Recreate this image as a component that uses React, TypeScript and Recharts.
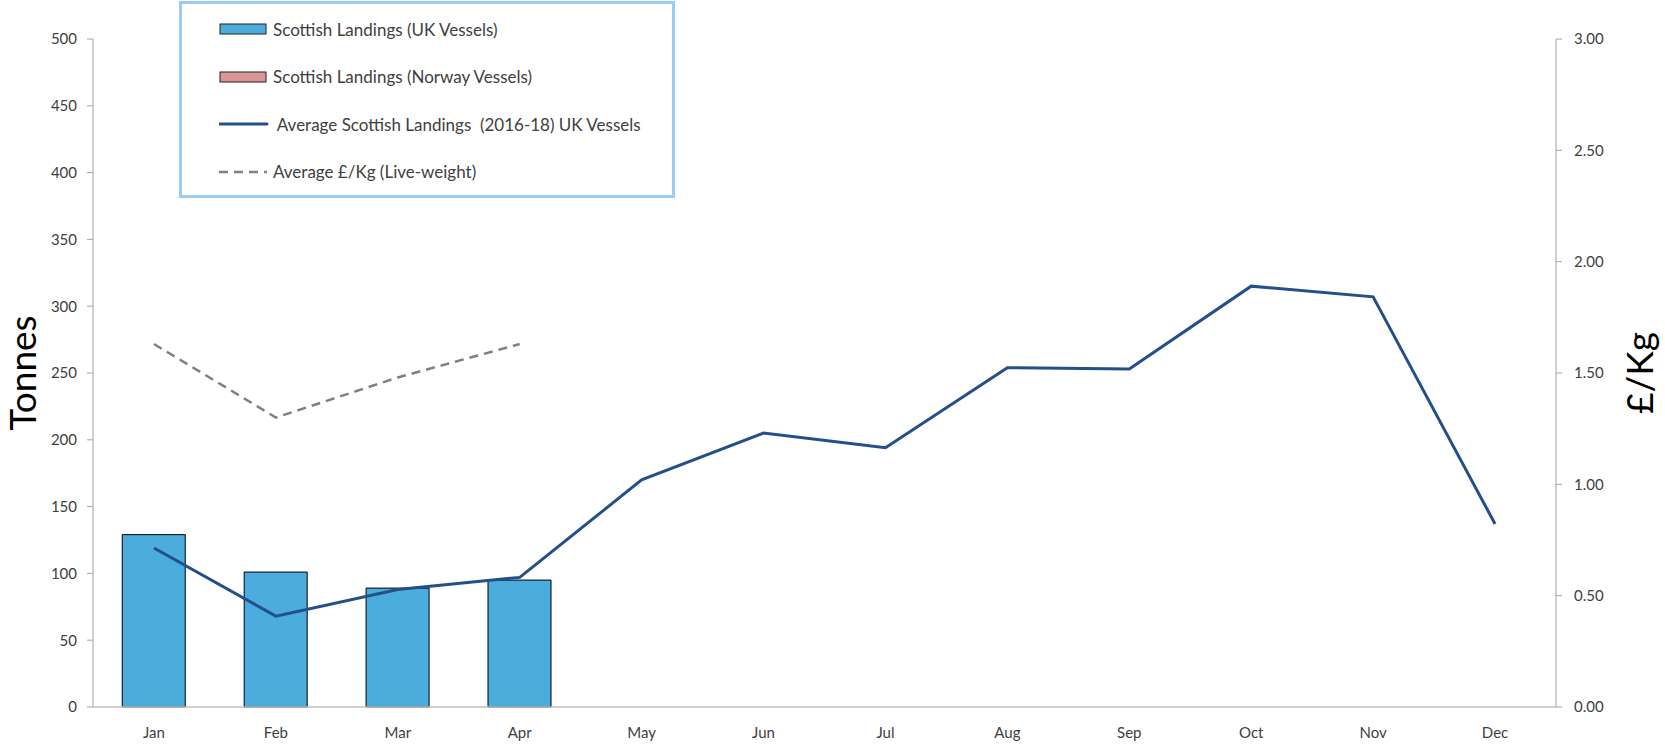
import React from "react";
import {
  ComposedChart, Bar, Line, XAxis, YAxis,
} from "recharts";

const months = ["Jan", "Feb", "Mar", "Apr", "May", "Jun", "Jul", "Aug", "Sep", "Oct", "Nov", "Dec"];
// Scottish landings, tonnes (only Jan-Apr reported)
const ukVessels: (number | null)[] = [129, 101, 89, 95, null, null, null, null, null, null, null, null];
const norwayVessels: (number | null)[] = [0, 0, 0, 0, null, null, null, null, null, null, null, null];
// 2016-18 average, UK vessels
const avgLandings = [119, 68, 88, 97, 170, 205, 194, 254, 253, 315, 307, 137];
// average £/kg live-weight
const avgPrice: (number | null)[] = [1.63, 1.3, 1.48, 1.63, null, null, null, null, null, null, null, null];

const tonnesTicks = [0, 50, 100, 150, 200, 250, 300, 350, 400, 450, 500];
const priceTicks = [0, 0.5, 1, 1.5, 2, 2.5, 3];

const FONT = "Lato, 'Open Sans', sans-serif";
const TEXT = "#404040";
const AXIS = "#BFBFBF";
const BAR_UK = "#4BACDE";
const BAR_NO = "#D99694";
const LINE = "#23508A";
const DASH = "#808080";

const data = months.map((m, i) => ({
  month: m,
  uk: ukVessels[i],
  norway: norwayVessels[i],
  avg: avgLandings[i],
  price: avgPrice[i],
}));

function LegendBox() {
  const rows = [
    { label: "Scottish Landings (UK Vessels)", kind: "bar", color: BAR_UK },
    { label: "Scottish Landings (Norway Vessels)", kind: "bar", color: BAR_NO },
    { label: " Average Scottish Landings  (2016-18) UK Vessels", kind: "line", color: LINE },
    { label: "Average £/Kg (Live-weight)", kind: "dash", color: DASH },
  ];
  return (
    <div
      style={{
        position: "absolute", left: 179, top: 1, width: 490, height: 191,
        border: "3px solid #9CCBF5", boxSizing: "content-box", background: "#fff",
        fontFamily: FONT, fontSize: 17, color: TEXT,
      }}
    >
      {rows.map((r, i) => (
        <div
          key={r.label}
          style={{ position: "absolute", left: 37, top: 14 + i * 47.5, height: 22, display: "flex", alignItems: "center", whiteSpace: "pre" }}
        >
          <svg width={50} height={14} style={{ marginRight: 4 }}>
            {r.kind === "bar" && <rect x={1} y={2} width={46} height={10} fill={r.color} stroke="#222" strokeWidth={1} />}
            {r.kind === "line" && <line x1={0} y1={7} x2={48} y2={7} stroke={r.color} strokeWidth={3} strokeLinecap="round" />}
            {r.kind === "dash" && <line x1={0} y1={7} x2={48} y2={7} stroke={r.color} strokeWidth={2.5} strokeDasharray="9 6" />}
          </svg>
          <span>{r.label}</span>
        </div>
      ))}
    </div>
  );
}

export default function App() {
  return (
    <div style={{ position: "absolute", left: 0, top: 0, width: 1665, height: 746, background: "#fff" }}>
      <ComposedChart
        width={1665}
        height={746}
        data={data}
        margin={{ top: 39, right: 0, bottom: 0, left: 0 }}
        barCategoryGap="24%"
      >
        <XAxis
          dataKey="month"
          height={39}
          axisLine={{ stroke: AXIS, strokeWidth: 1.5 }}
          tickLine={false}
          tickSize={0}
          tickMargin={20}
          tick={{ fontSize: 15, fill: TEXT, fontFamily: FONT }}
          interval={0}
        />
        <YAxis
          yAxisId="left"
          width={93}
          domain={[0, 500]}
          ticks={tonnesTicks}
          interval={0}
          axisLine={{ stroke: AXIS, strokeWidth: 1.5 }}
          tickLine={{ stroke: "#A6A6A6" }}
          tickSize={6}
          tickMargin={10}
          tick={{ fontSize: 15, fill: TEXT, fontFamily: FONT }}
          label={{
            value: "Tonnes", angle: -90, position: "insideLeft", offset: 23,
            style: { fontSize: 37, fill: "#000", fontFamily: FONT, textAnchor: "middle" },
          }}
        />
        <YAxis
          yAxisId="right"
          orientation="right"
          width={109}
          domain={[0, 3]}
          ticks={priceTicks}
          interval={0}
          tickFormatter={(v: number) => v.toFixed(2)}
          axisLine={{ stroke: AXIS, strokeWidth: 1.5 }}
          tickLine={{ stroke: "#A6A6A6" }}
          tickSize={6}
          tickMargin={12}
          tick={{ fontSize: 15, fill: TEXT, fontFamily: FONT }}
          label={{
            value: "£/Kg", angle: -90, position: "insideRight", offset: 25,
            style: { fontSize: 37, fill: "#000", fontFamily: FONT, textAnchor: "middle" },
          }}
        />
        <Bar yAxisId="left" dataKey="uk" stackId="a" fill={BAR_UK} stroke="#000" strokeWidth={1} isAnimationActive={false} />
        <Bar yAxisId="left" dataKey="norway" stackId="a" fill={BAR_NO} stroke="#000" strokeWidth={1} isAnimationActive={false} />
        <Line yAxisId="left" dataKey="avg" stroke={LINE} strokeWidth={3} dot={false} type="linear" isAnimationActive={false} />
        <Line yAxisId="right" dataKey="price" stroke={DASH} strokeWidth={2.5} strokeDasharray="9 6" dot={false} type="linear" isAnimationActive={false} />
      </ComposedChart>
      <LegendBox />
    </div>
  );
}
